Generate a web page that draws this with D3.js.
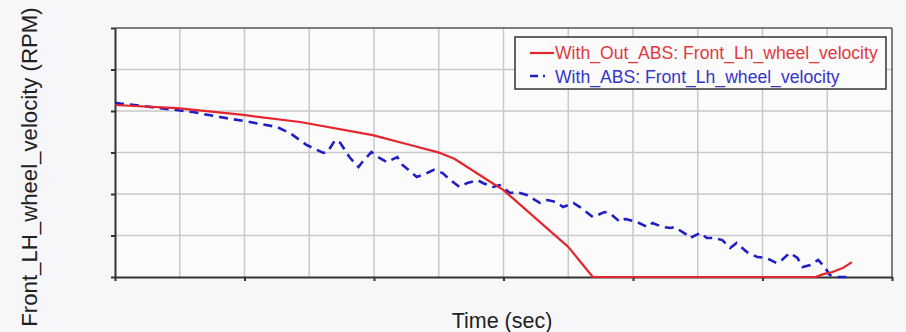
<!DOCTYPE html>
<html>
<head>
<meta charset="utf-8">
<script src="https://cdn.jsdelivr.net/npm/d3@7"></script>
<style>
  html, body { margin: 0; padding: 0; background: #f7f7f9; }
  svg { display: block; }
  text { font-family: "Liberation Sans", Arial, sans-serif; }
</style>
</head>
<body>
<svg id="chart" width="906" height="332"></svg>
<script>
// Time (sec) and wheel speed (RPM) samples for each run
const timeNoAbs = [0, 0.48, 0.99, 1.43, 1.99, 2.28, 2.51, 2.62, 2.72, 2.90, 3.00, 3.44, 3.50, 3.69, 5.41, 5.47, 5.54, 5.62, 5.69];
const rpmNoAbs  = [829, 814, 781, 747, 684, 636, 598, 570, 530, 458, 419, 178, 145, 0, 0, 14, 24, 43, 72];

const timeAbs = [0, 0.35, 0.60, 0.81, 1.04, 1.25, 1.35, 1.48, 1.61, 1.64, 1.70, 1.74, 1.81, 1.88, 1.91, 1.98,
  2.03, 2.10, 2.18, 2.22, 2.33, 2.41, 2.46, 2.53, 2.59, 2.66, 2.72, 2.80, 2.84, 2.92, 2.97, 3.05, 3.10, 3.18,
  3.28, 3.34, 3.41, 3.46, 3.54, 3.59, 3.69, 3.78, 3.82, 3.90, 3.94, 4.03, 4.11, 4.15, 4.23, 4.29, 4.32, 4.42,
  4.44, 4.52, 4.57, 4.62, 4.69, 4.75, 4.80, 4.88, 4.96, 5.03, 5.11, 5.15, 5.21, 5.27, 5.31, 5.37, 5.43, 5.48,
  5.52, 5.58, 5.68];
const rpmAbs = [839, 814, 795, 771, 747, 723, 694, 636, 598, 602, 660, 646, 578, 530, 554, 602,
  578, 554, 578, 540, 482, 501, 516, 501, 467, 434, 453, 467, 453, 434, 443, 405, 410, 395,
  357, 371, 361, 337, 357, 337, 289, 313, 308, 265, 280, 265, 241, 260, 241, 236, 241, 202,
  188, 212, 188, 188, 178, 140, 164, 120, 96, 92, 67, 82, 116, 92, 48, 58, 82, 48,
  10, 0, 0];

const seriesNames = ["With_Out_ABS: Front_Lh_wheel_velocity", "With_ABS: Front_Lh_wheel_velocity"];
const xGridTicks = d3.range(0, 6.01, 0.5);
const xAxisTicks = d3.range(0, 6.01, 1);
const yTicks = d3.range(0, 1201, 200);

const svg = d3.select("#chart");
const plotL = 115, plotR = 892, plotT = 28, plotB = 277;

const x = d3.scaleLinear().domain([0, 6]).range([plotL, plotR]);
const y = d3.scaleLinear().domain([0, 1200]).range([plotB, plotT]);

// plot background
svg.append("rect")
  .attr("x", plotL).attr("y", plotT)
  .attr("width", plotR - plotL).attr("height", plotB - plotT)
  .attr("fill", "#fbfbfc");

// grid
const grid = svg.append("g").attr("stroke", "#c9c9cc").attr("stroke-width", 1.5);
grid.selectAll("line.v").data(xGridTicks.slice(1, -1)).join("line")
  .attr("class", "v")
  .attr("x1", d => x(d)).attr("x2", d => x(d))
  .attr("y1", plotT).attr("y2", plotB);
grid.selectAll("line.h").data(yTicks.slice(1, -1)).join("line")
  .attr("class", "h")
  .attr("x1", plotL).attr("x2", plotR)
  .attr("y1", d => y(d)).attr("y2", d => y(d));

// frame
svg.append("line").attr("x1", plotL).attr("x2", plotR).attr("y1", plotT).attr("y2", plotT)
  .attr("stroke", "#555").attr("stroke-width", 1.5);
svg.append("line").attr("x1", plotR).attr("x2", plotR).attr("y1", plotT).attr("y2", plotB)
  .attr("stroke", "#555").attr("stroke-width", 1.5);

// axes without labels
const xAxis = d3.axisBottom(x).tickValues(xAxisTicks).tickSize(4).tickSizeOuter(0).tickFormat("");
const yAxis = d3.axisLeft(y).tickValues(yTicks).tickSize(4).tickSizeOuter(0).tickFormat("");
svg.append("g").attr("transform", `translate(0,${plotB})`).call(xAxis)
  .call(g => g.selectAll("path,line").attr("stroke", "#333").attr("stroke-width", 2));
svg.append("g").attr("transform", `translate(${plotL},0)`).call(yAxis)
  .call(g => g.selectAll("path,line").attr("stroke", "#333").attr("stroke-width", 2));

// curves
const line = d3.line().x(d => x(d[0])).y(d => y(d[1]));
const noAbs = d3.zip(timeNoAbs, rpmNoAbs);
const abs = d3.zip(timeAbs, rpmAbs);

svg.append("path").datum(abs)
  .attr("d", line).attr("fill", "none")
  .attr("stroke", "#1f1fc4").attr("stroke-width", 2.6)
  .attr("stroke-dasharray", "9,6");
svg.append("path").datum(noAbs)
  .attr("d", line).attr("fill", "none")
  .attr("stroke", "#e4262c").attr("stroke-width", 2.2)
  .attr("stroke-linejoin", "round");

// legend
const lg = svg.append("g");
lg.append("rect").attr("x", 515).attr("y", 37).attr("width", 371).attr("height", 52)
  .attr("fill", "#fbfbfc").attr("stroke", "#333").attr("stroke-width", 1.5);
lg.append("line").attr("x1", 530).attr("x2", 554).attr("y1", 53).attr("y2", 53)
  .attr("stroke", "#e4262c").attr("stroke-width", 2.2);
lg.append("line").attr("x1", 530).attr("x2", 552).attr("y1", 76).attr("y2", 76)
  .attr("stroke", "#1f1fc4").attr("stroke-width", 2.4)
  .attr("stroke-dasharray", "8,5,2,20");
lg.append("text").attr("x", 555).attr("y", 59).text(seriesNames[0])
  .attr("font-size", 17.6).attr("fill", "#e03a3e");
lg.append("text").attr("x", 555).attr("y", 82.5).text(seriesNames[1])
  .attr("font-size", 17.6).attr("fill", "#3535c8");

// axis titles
svg.append("text").attr("x", 502).attr("y", 328).attr("text-anchor", "middle")
  .attr("font-size", 21.5).attr("fill", "#222").text("Time (sec)");
svg.append("text").attr("transform", "translate(37,167) rotate(-90)")
  .attr("text-anchor", "middle").attr("font-size", 22.2).attr("fill", "#222")
  .text("Front_LH_wheel_velocity (RPM)");
</script>
</body>
</html>
